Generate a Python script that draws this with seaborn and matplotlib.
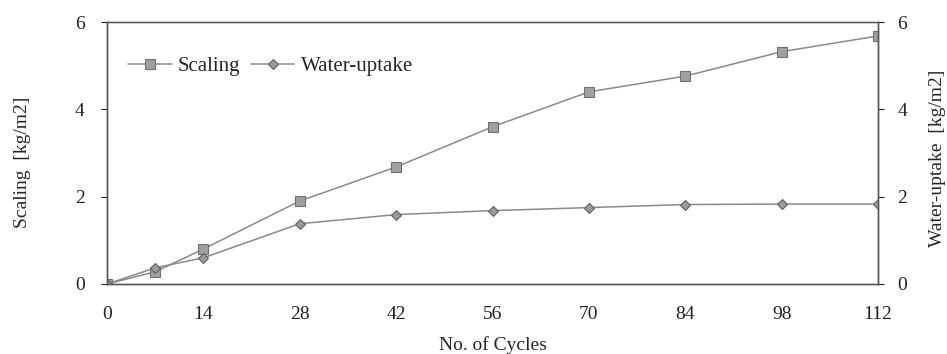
import numpy as np
import pandas as pd
import matplotlib
matplotlib.use("Agg")
import matplotlib.pyplot as plt
import seaborn as sns

cycles = [0, 7, 14, 28, 42, 56, 70, 84, 98, 112]
scaling = [0.0, 0.28, 0.80, 1.90, 2.68, 3.60, 4.40, 4.76, 5.32, 5.68]
water_uptake = [0.0, 0.37, 0.60, 1.38, 1.59, 1.68, 1.75, 1.82, 1.83, 1.83]
x_ticks = [0, 14, 28, 42, 56, 70, 84, 98, 112]
y_ticks = [0, 2, 4, 6]

sns.set_theme(style="white")
plt.rcParams["font.family"] = ["Liberation Serif", "DejaVu Serif"]
fs = 14

df = pd.DataFrame({"cycles": cycles, "scaling": scaling, "water": water_uptake})

fig = plt.figure(figsize=(9.47, 3.54), dpi=100)
ax = fig.add_axes([107 / 947, 1 - 284 / 354, 771 / 947, 262 / 354])
ax2 = ax.twinx()

line_col = "#8a8a8a"
sns.lineplot(data=df, x="cycles", y="scaling", ax=ax, color=line_col, lw=1.1,
             marker="s", markersize=7, markerfacecolor="#a0a0a0",
             markeredgecolor="#707070", markeredgewidth=0.8, label="Scaling",
             legend=False)
sns.lineplot(data=df, x="cycles", y="water", ax=ax2, color=line_col, lw=1.1,
             marker="D", markersize=5.5, markerfacecolor="#9a9a9a",
             markeredgecolor="#606060", markeredgewidth=0.8, label="Water-uptake",
             legend=False)

for a in (ax, ax2):
    a.set_xlim(0, 112)
    a.set_ylim(0, 6)
    a.set_yticks(y_ticks)
    a.tick_params(axis="both", labelsize=fs, colors="#222222", length=4,
                  width=0.8, direction="out")
    for s in a.spines.values():
        s.set_color("#555555")
        s.set_linewidth(1.0)
ax.set_xticks(x_ticks)
ax.tick_params(axis="x", pad=12)
ax.tick_params(axis="y", pad=12)
ax2.tick_params(axis="y", pad=10)
ax.spines["top"].set_color("#999999")

ax.set_xlabel("No. of Cycles", fontsize=fs, labelpad=9)
ax.set_ylabel("Scaling  [kg/m2]", fontsize=fs, rotation=90, va="center", ha="center")
ax.yaxis.set_label_coords(-0.110, 0.466)
ax2.set_ylabel("Water-uptake  [kg/m2]", fontsize=fs, rotation=90, va="center", ha="center")
ax2.yaxis.set_label_coords(1.0775, 0.48)

h1, l1 = ax.get_legend_handles_labels()
h2, l2 = ax2.get_legend_handles_labels()
ax.legend(h1 + h2, l1 + l2, loc="center left", bbox_to_anchor=(0.027, 0.83),
          ncol=2, frameon=False, fontsize=15, handlelength=2.1,
          handletextpad=0.3, columnspacing=0.5, borderaxespad=0,
          borderpad=0)

fig.savefig("out.png", dpi=100)
